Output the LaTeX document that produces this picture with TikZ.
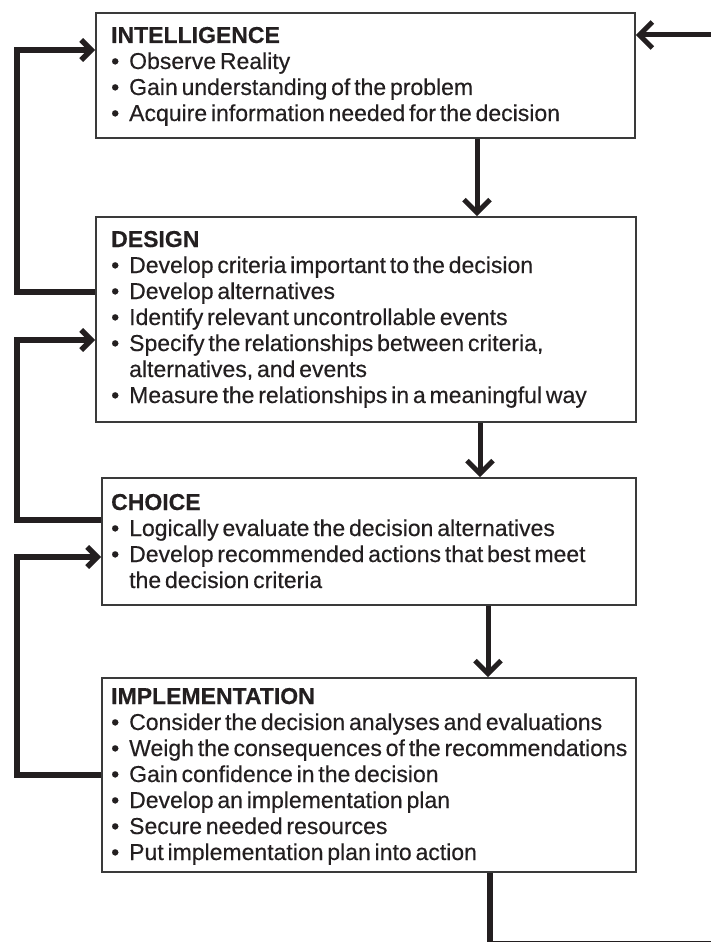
\documentclass[tikz,border=0pt]{standalone}
\usepackage{fontspec}
\setmainfont{Liberation Sans}[WordSpace=0.6, FakeBold=0.35]
\usetikzlibrary{arrows.meta}
\definecolor{ink}{HTML}{231F20}
\definecolor{boxline}{HTML}{3A3A3A}
\newcommand\bulitem{\makebox[18pt][l]{\textbullet}}
\begin{document}
\begin{tikzpicture}[x=1pt,y=-1pt,
  box/.style={draw=boxline, line width=1.8pt, inner sep=0pt, fill=white},
  flow/.style={draw=ink, line width=5pt, -{Straight Barb[length=13pt,width=26pt]}},
  back/.style={draw=ink, line width=5.5pt, -{Straight Barb[length=10pt,width=20pt]}},
  plain/.style={draw=ink, line width=5.5pt},
  txt/.style={anchor=base west, inner sep=0pt, text=ink, font=\fontsize{23}{26}\selectfont}]
\fill[white] (0,0) rectangle (710,942);
\useasboundingbox (0,0) rectangle (710,942);

\node[box, minimum width=539pt, minimum height=125pt] (intel) at (365.5,75.5) {};
\node[box, minimum width=540pt, minimum height=205pt] (design) at (366,319.5) {};
\node[box, minimum width=534pt, minimum height=127pt] (choice) at (369,541.5) {};
\node[box, minimum width=534pt, minimum height=194pt] (impl) at (369,775) {};

\node[txt] (intelT) at (111,43) {\begin{tabular}[t]{@{}l@{}l@{}}
\multicolumn{2}{@{}l@{}}{\bfseries INTELLIGENCE}\\
\bulitem & Observe Reality\\
\bulitem & Gain understanding of the problem\\
\bulitem & Acquire information needed for the decision
\end{tabular}};

\node[txt] (designT) at (111,247) {\begin{tabular}[t]{@{}l@{}l@{}}
\multicolumn{2}{@{}l@{}}{\bfseries DESIGN}\\
\bulitem & Develop criteria important to the decision\\
\bulitem & Develop alternatives\\
\bulitem & Identify relevant uncontrollable events\\
\bulitem & Specify the relationships between criteria,\\
 & alternatives, and events\\
\bulitem & Measure the relationships in a meaningful way
\end{tabular}};

\node[txt] (choiceT) at (111,510) {\begin{tabular}[t]{@{}l@{}l@{}}
\multicolumn{2}{@{}l@{}}{\bfseries CHOICE}\\
\bulitem & Logically evaluate the decision alternatives\\
\bulitem & Develop recommended actions that best meet\\
 & the decision criteria
\end{tabular}};

\node[txt] (implT) at (111,704) {\begin{tabular}[t]{@{}l@{}l@{}}
\multicolumn{2}{@{}l@{}}{\bfseries IMPLEMENTATION}\\
\bulitem & Consider the decision analyses and evaluations\\
\bulitem & Weigh the consequences of the recommendations\\
\bulitem & Gain confidence in the decision\\
\bulitem & Develop an implementation plan\\
\bulitem & Secure needed resources\\
\bulitem & Put implementation plan into action
\end{tabular}};

% forward arrows
\draw[flow] ([xshift=111.5pt]intel.south) -- ([xshift=111pt]design.north);
\draw[flow] ([xshift=114pt]design.south) -- ([xshift=111pt]choice.north);
\draw[flow] ([xshift=119pt]choice.south) -- ([xshift=119pt]impl.north);

% incoming from right
\coordinate (rin) at (712,35);
\draw[flow] (rin) -- ([yshift=40.5pt]intel.east);

% outgoing at bottom
\coordinate (bcorner) at (490,944);
\coordinate (bend) at (714,944);
\draw[plain] ([xshift=121pt]impl.south) -- (bcorner) -- (bend);

% feedback loops
\draw[back] ([yshift=27.5pt]design.west) -- ++(-78,0) |- ([yshift=25.5pt]intel.west);
\draw[back] ([yshift=21.5pt]choice.west) -- ++(-84,0) |- ([yshift=-20.5pt]design.west);
\draw[back] (impl.west) -- ++(-84,0) |- ([yshift=-15.5pt]choice.west);
\end{tikzpicture}
\end{document}
